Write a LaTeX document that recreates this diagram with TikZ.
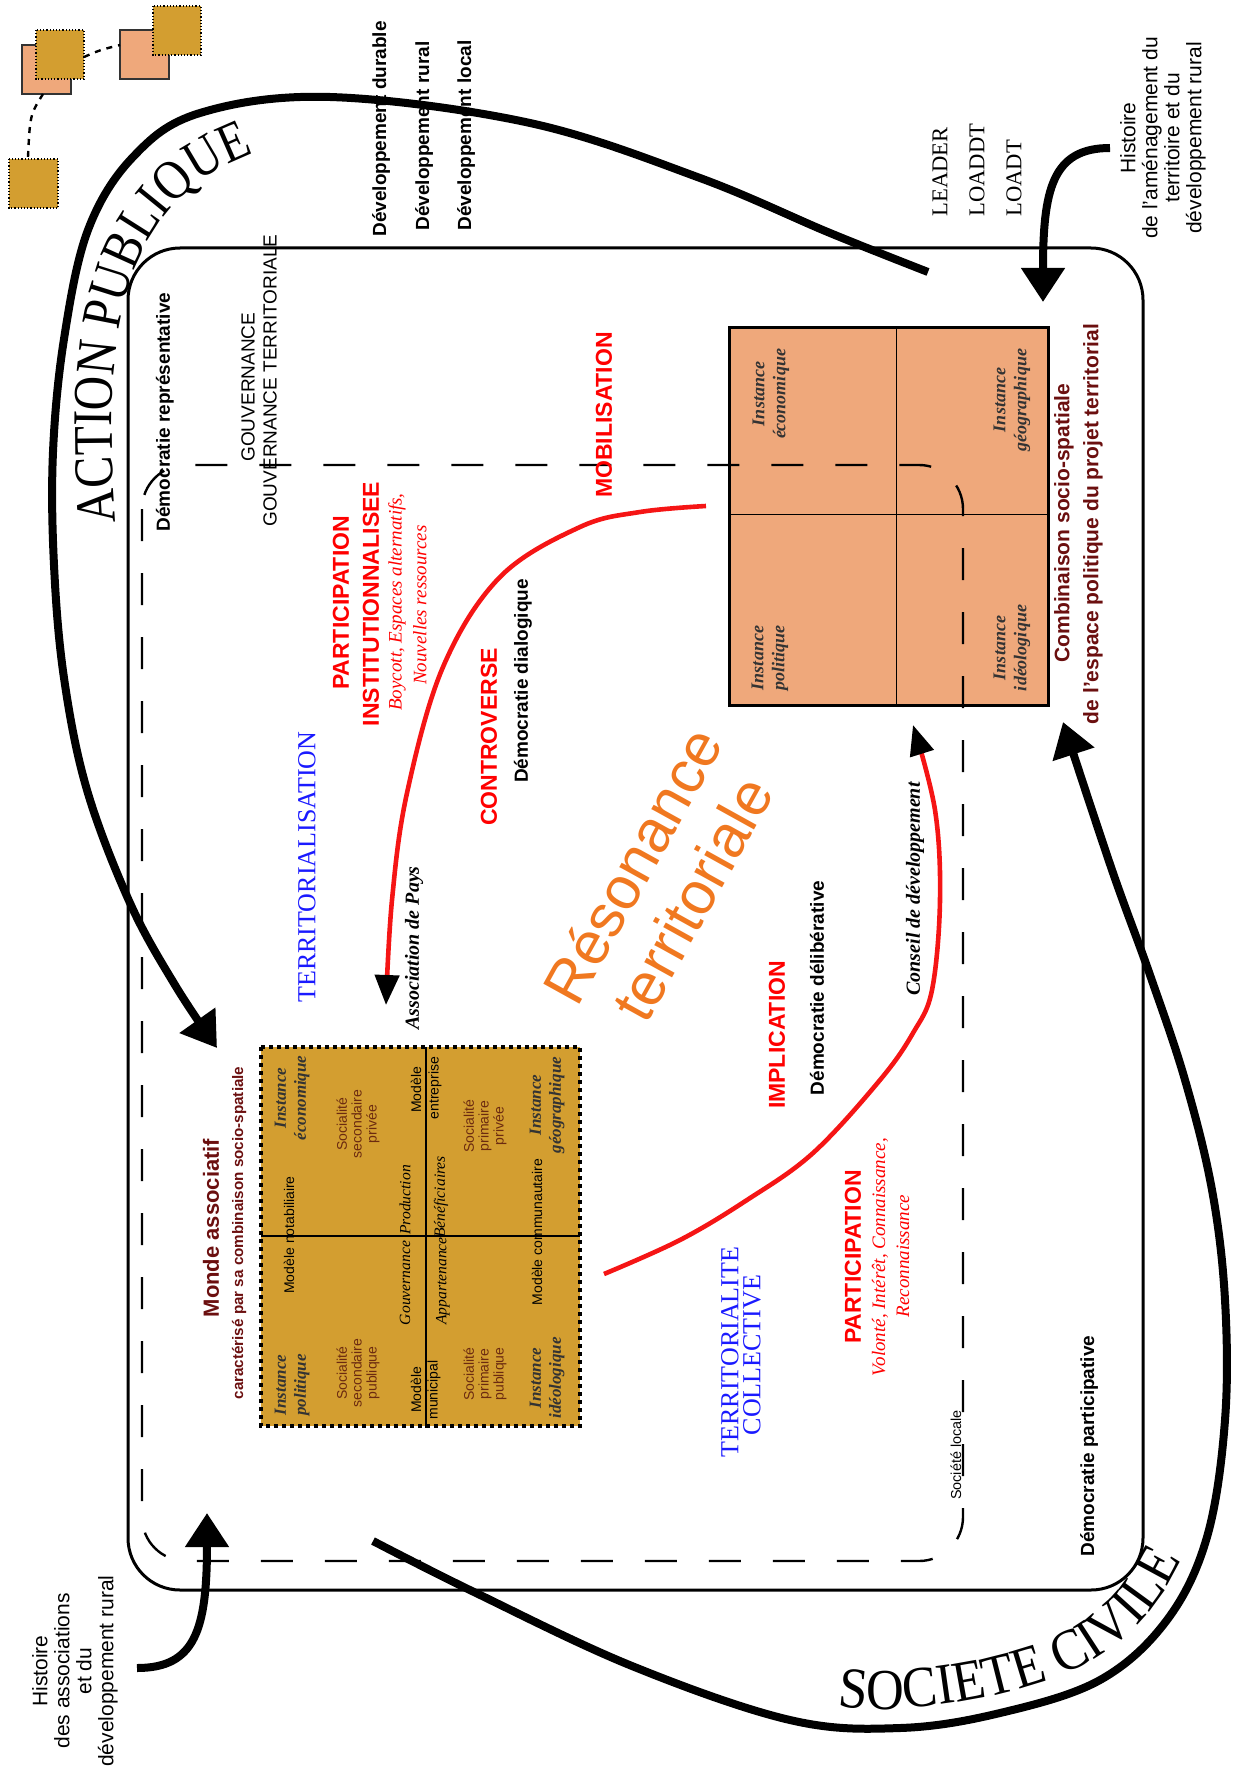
\documentclass[tikz,border=0pt]{standalone}
\usepackage{fontspec}
\setmainfont{Liberation Sans}
\newfontfamily\tms{Liberation Serif}
\newfontfamily\tmsA[FakeStretch=0.85]{Liberation Serif}
\newfontfamily\tmsB[FakeStretch=0.9]{Liberation Serif}
\usetikzlibrary{arrows.meta,decorations.text}
\definecolor{salmon}{HTML}{EFA87B}
\definecolor{ochre}{HTML}{D39E30}
\definecolor{dred}{HTML}{6B0F0F}
\definecolor{brn}{HTML}{6B2A10}
\definecolor{orng}{HTML}{F07820}
\definecolor{rred}{HTML}{F51515}
\definecolor{blu}{HTML}{1A1AFF}
\definecolor{igray}{HTML}{333333}
\begin{document}
\begin{tikzpicture}[x=0.5pt,y=-0.5pt,
  vert/.style={rotate=90, inner sep=0pt},
  dem/.style={vert, font=\fontsize{9.5}{11}\selectfont\bfseries},
  redcap/.style={vert, text=red, font=\fontsize{11.5}{13}\selectfont\bfseries},
  redscr/.style={vert, text=red, font=\tms\itshape\fontsize{9.5}{11}\selectfont},
  blucap/.style={vert, text=blu, font=\tms\fontsize{13}{14}\selectfont},
  inst/.style={vert, align=center, text=igray, font=\tms\bfseries\itshape\fontsize{8.5}{10}\selectfont},
  sinst/.style={inst, font=\tms\bfseries\itshape\fontsize{9}{10.5}\selectfont},
  soc/.style={vert, align=center, text=brn, font=\fontsize{7}{7.4}\selectfont},
  mod/.style={vert, font=\fontsize{7}{8}\selectfont},
  scr/.style={vert, font=\tms\itshape\fontsize{7.8}{9}\selectfont},
  bscr/.style={vert, font=\tms\bfseries\itshape\fontsize{10}{12}\selectfont},
  law/.style={vert, anchor=west, font=\tms\fontsize{11.3}{13}\selectfont},
  devt/.style={vert, anchor=west, font=\fontsize{9.5}{11}\selectfont\bfseries},
  hist/.style={vert, align=center, font=\fontsize{10.5}{11}\selectfont},
  bigarrow/.style={line width=4pt, -{Triangle[length=17pt,width=21pt]}},
  redarrow/.style={rred, line width=2.3pt, -{Triangle[length=15pt,width=12pt,color=black]}},
  sqs/.style={fill=salmon, draw=igray, line width=0.6pt},
  sqo/.style={fill=ochre, draw=black, densely dotted, line width=0.6pt}
]
\useasboundingbox (0,0) rectangle (1240,1771);

% decoration squares top-left
\draw[sqs] (22,45) rectangle (71,94);
\draw[sqo] (36,30) rectangle (84,79);
\draw[sqs] (120,30) rectangle (169,79);
\draw[sqo] (153,6) rectangle (201,55);
\draw[sqo] (9,159) rectangle (58,208);
\coordinate (d1a) at (84,57);
\coordinate (d1b) at (120,45);
\coordinate (d2a) at (43,94);
\coordinate (d2b) at (28,157);
\draw[dashed, line width=1.2pt] (d1a) .. controls (100,50) .. (d1b);
\draw[dashed, line width=1.2pt] (d2a) .. controls (30,115) .. (d2b);

% frames
\draw[line width=1.5pt, rounded corners=26pt] (128,248) rectangle (1143,1590);

% salmon box
\draw[fill=salmon, line width=1.5pt] (729,327) rectangle (1048,705);
\draw[line width=0.5pt] (896,327) -- (896,705) (729,514) -- (1048,514);

% ochre box
\draw[fill=ochre, line width=1.6pt, dash pattern=on 2pt off 2pt] (261,1047) rectangle (580,1426);
\draw[line width=0.6pt] (426,1047) -- (426,1428) (261,1236) -- (580,1236);

% dashed rectangle
\draw[line width=1.2pt, dash pattern=on 16pt off 16pt, rounded corners=22pt] (142,465) rectangle (963,1561);

% big arrows
\draw[bigarrow] plot[smooth, tension=0.6] coordinates {(928,272) (830,233) (700,178) (530,123) (330,97) (200,113) (133,157) (88,230) (64,339) (53,452) (54,565) (64,678) (87,790) (130,903) (175,985) (217,1048)};
\path[decorate, decoration={text along path, text align=left, text={|\tmsA\fontsize{28}{28}\selectfont|ACTION PUBLIQUE}}] plot[smooth, tension=0.6] coordinates {(116,522) (112,440) (115,360) (128,290) (155,230) (195,185) (245,157) (300,140) (360,130) (420,126)};

\draw[bigarrow] plot[smooth, tension=0.6] coordinates {(373,1541) (474,1592) (632,1666) (790,1720) (900,1728) (1000,1713) (1100,1680) (1167,1620) (1207,1537) (1225,1420) (1225,1300) (1212,1190) (1185,1080) (1150,975) (1112,870) (1063,722)};
\path[decorate, decoration={text along path, text align=left, text={|\tmsB\fontsize{29}{29}\selectfont|SOCIETE CIVILE}}] plot[smooth, tension=0.6] coordinates {(838,1706) (900,1709) (1000,1694) (1090,1662) (1152,1608) (1192,1535) (1212,1450) (1217,1380)};

\coordinate (h1s) at (1110,148);
\coordinate (h1e) at (1043,302);
\draw[bigarrow] (h1s) .. controls (1052,148) and (1043,190) .. (h1e);
\coordinate (h2s) at (137,1668);
\coordinate (h2e) at (207,1513);
\draw[bigarrow] (h2s) .. controls (195,1668) and (207,1630) .. (h2e);

% red arrows
\draw[redarrow] plot[smooth, tension=0.6] coordinates {(706,506) (640,512) (580,527) (500,577) (443,667) (407,793) (392,900) (386,1005)};
\draw[redarrow] plot[smooth, tension=0.6] coordinates {(604,1274) (680,1240) (747,1200) (813,1153) (880,1080) (913,1033) (932,990) (940,900) (935,810) (913,725)};

% salmon labels
\node[sinst] (sie) at (771,394) {Instance\\économique};
\node[sinst] (sig) at (1012,400) {Instance\\géographique};
\node[sinst] (sip) at (770,658) {Instance\\politique};
\node[sinst] (sii) at (1012,648) {Instance\\idéologique};

% ochre labels
\node[inst] (oie) at (292,1098) {Instance\\économique};
\node[soc] (ossp) at (358,1124) {Socialité\\secondaire\\privée};
\node[mod] (omn) at (289,1235) {Modèle notabiliaire};
\node[scr] (oprod) at (405,1200) {Production};
\node[mod] (ome1) at (416,1090) {Modèle};
\node[mod] (ome2) at (435,1088) {entreprise};
\node[scr] (oben) at (441,1197) {Bénéficiaires};
\node[soc] (ospp) at (485,1126) {Socialité\\primaire\\privée};
\node[inst] (oig) at (547,1105) {Instance\\géographique};
\node[mod] (omc) at (537,1232) {Modèle communautaire};
\node[scr] (ogouv) at (405,1283) {Gouvernance};
\node[scr] (oapp) at (443,1281) {Appartenance};
\node[soc] (ossu) at (358,1373) {Socialité\\secondaire\\publique};
\node[mod] (omm1) at (416,1390) {Modèle};
\node[mod] (omm2) at (434,1390) {municipal};
\node[soc] (ospu) at (485,1374) {Socialité\\primaire\\publique};
\node[inst] (oip) at (292,1385) {Instance\\politique};
\node[inst] (oii) at (547,1378) {Instance\\idéologique};

% texts
\node[dem] (drep) at (165,412) {Démocratie représentative};
\node[vert, anchor=west, font=\fontsize{9.5}{11}\selectfont] (gouv) at (248,462) {GOUVERNANCE};
\node[vert, anchor=west, font=\fontsize{9.5}{11}\selectfont] (gouvt) at (270,527) {GOUVERNANCE TERRITORIALE};
\node[devt] (ddur) at (381,237) {Développement durable};
\node[devt] (drur) at (424,231) {Développement rural};
\node[devt] (dloc) at (466,231) {Développement local};
\node[law] (leader) at (940,217) {LEADER};
\node[law] (loaddt) at (977,217) {LOADDT};
\node[law] (loadt) at (1014,217) {LOADT};
\node[hist] (histA) at (1163,138) {Histoire\\de l'aménagement du\\territoire et du\\développement rural};
\node[hist] (histB) at (75,1671) {Histoire\\des associations\\et du\\développement rural};

\node[redcap] (partI) at (341,603) {PARTICIPATION};
\node[redcap] (inst) at (371,604) {INSTITUTIONNALISEE};
\node[redscr] (boyc) at (397,602) {Boycott, Espaces alternatifs,};
\node[redscr] (nouv) at (420,605) {Nouvelles ressources};
\node[blucap] (terrz) at (307,867) {TERRITORIALISATION};
\node[redcap] (mobil) at (604,415) {MOBILISATION};
\node[redcap] (contr) at (489,737) {CONTROVERSE};
\node[dem] (ddia) at (523,681) {Démocratie dialogique};
\node[rotate=61, align=center, text=orng, inner sep=0pt, font=\fontsize{30}{34}\selectfont] (reso) at (662,882) {Résonance\\territoriale};
\node[bscr] (assoc) at (414,948) {Association de Pays};
\node[redcap] (impl) at (777,1035) {IMPLICATION};
\node[dem] (ddel) at (817,988) {Démocratie délibérative};
\node[bscr] (cons) at (915,889) {Conseil de développement};
\node[blucap] (terrt) at (730,1352) {TERRITORIALITE};
\node[blucap] (coll) at (752,1355) {COLLECTIVE};
\node[redcap] (partII) at (853,1257) {PARTICIPATION};
\node[redscr] (volo) at (880,1257) {Volonté, Intérêt, Connaissance,};
\node[redscr] (reco) at (903,1256) {Reconnaissance};
\node[vert, font=\fontsize{7.2}{8}\selectfont] (socl) at (956,1455) {Société locale};
\node[dem] (dpart) at (1089,1446) {Démocratie participative};
\node[vert, text=dred, font=\fontsize{10.5}{12}\selectfont\bfseries] (comb1) at (1064,523) {Combinaison socio-spatiale};
\node[vert, text=dred, font=\fontsize{10.5}{12}\selectfont\bfseries] (comb2) at (1093,524) {de l'espace politique du projet territorial};
\node[vert, text=dred, font=\fontsize{11}{12}\selectfont\bfseries] (monde) at (211,1228) {Monde associatif};
\node[vert, text=dred, font=\fontsize{7.6}{9}\selectfont\bfseries] (cara) at (239,1233) {caractérisé par sa combinaison socio-spatiale};
\end{tikzpicture}
\end{document}
